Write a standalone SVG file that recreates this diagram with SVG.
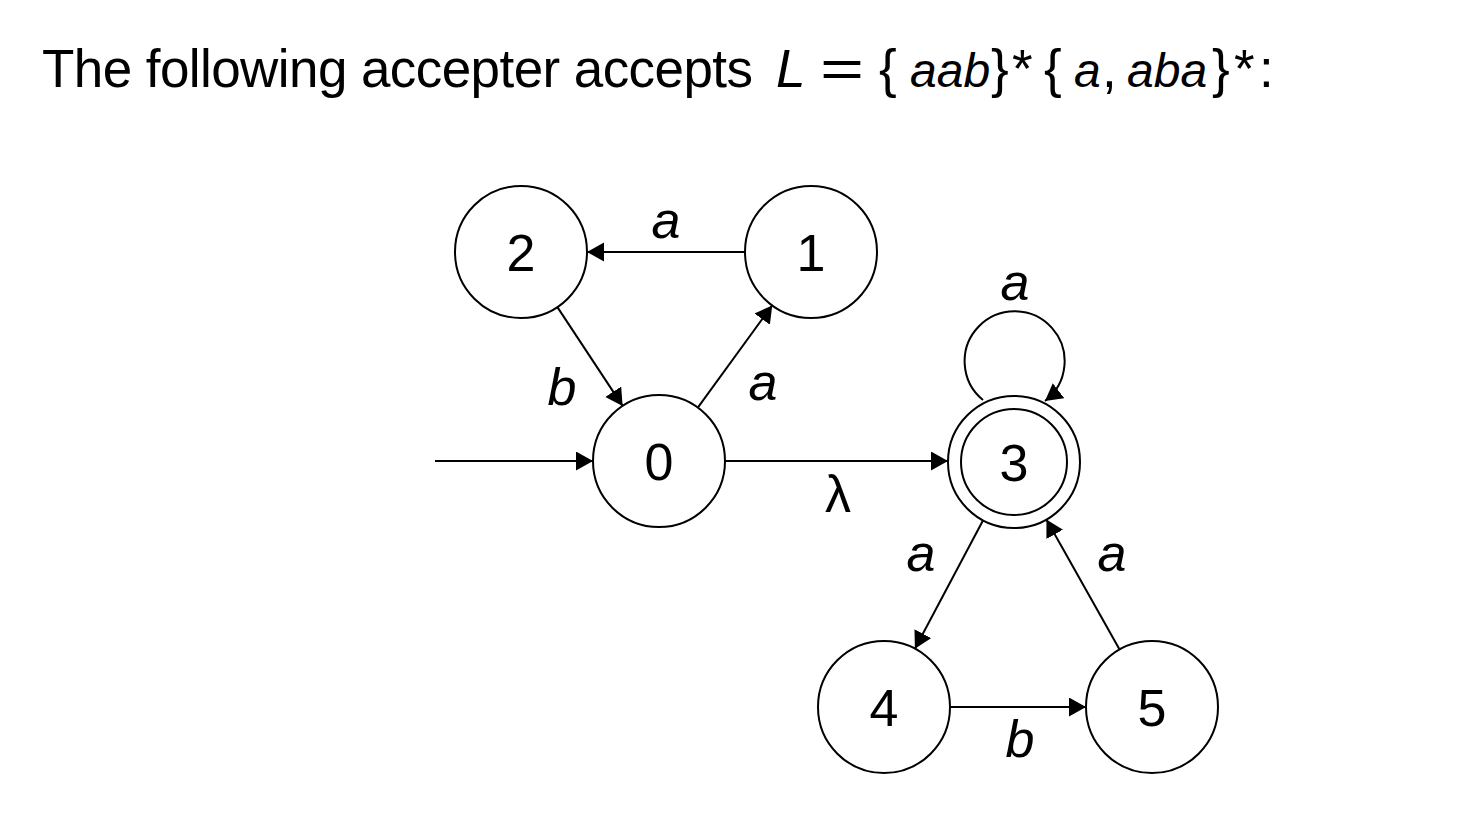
<svg xmlns="http://www.w3.org/2000/svg" width="1458" height="822" viewBox="0 0 1458 822">
<style>
text{font-family:"Liberation Sans",Arial,sans-serif;fill:#000}
.t{font-size:53px}
.w{font-size:48px;font-style:italic}
.i{font-style:italic}
.n{font-size:52px;text-anchor:middle}
.l{font-size:52px;font-style:italic;text-anchor:middle}
.node{fill:#fff;stroke:#000;stroke-width:2}
.e{fill:none;stroke:#000;stroke-width:2;marker-end:url(#ah)}
</style>
<defs>
<marker id="ah" markerUnits="userSpaceOnUse" markerWidth="18" markerHeight="20" refX="17" refY="9.5" orient="auto">
<path d="M0,0 L17,9.5 L0,19 z" fill="#000"/>
</marker>
</defs>
<rect width="1458" height="822" fill="#fff"/>
<g id="title">
<text class="t" x="42" y="87" textLength="711" lengthAdjust="spacing">The following accepter accepts</text>
<text class="t i" x="776" y="87">L</text>
<text class="t" x="820" y="87" textLength="44" lengthAdjust="spacingAndGlyphs">=</text>
<text class="t" x="879" y="87">{</text>
<text class="w" x="910" y="87">aab</text>
<text class="t" x="991" y="87">}</text>
<text class="t" x="1012" y="87">*</text>
<text class="t" x="1044" y="87">{</text>
<text class="w" x="1074" y="87">a</text>
<text class="t" x="1102" y="87">,</text>
<text class="w" x="1127" y="87">aba</text>
<text class="t" x="1212" y="87">}</text>
<text class="t" x="1234" y="87">*</text>
<text class="t" x="1259" y="87">:</text>
</g>
<g id="connectors">
<line class="e" x1="435" y1="461" x2="593" y2="461"/>
<line class="e" x1="745" y1="252" x2="587" y2="252"/>
<line class="e" x1="557.4" y1="307.1" x2="622.6" y2="405.9"/>
<line class="e" x1="697.8" y1="407.6" x2="772.2" y2="305.4"/>
<line class="e" x1="725" y1="461" x2="948" y2="461"/>
<path class="e" d="M983,400 A50,50 0 1 1 1045,401"/>
<line class="e" x1="983.1" y1="520.3" x2="914.9" y2="648.7"/>
<line class="e" x1="950" y1="707" x2="1086" y2="707"/>
<line class="e" x1="1119.6" y1="649.5" x2="1046.4" y2="519.5"/>
<text class="l" x="666" y="238">a</text>
<text class="l" x="562" y="405">b</text>
<text class="l" x="763" y="400">a</text>
<text class="l" x="1015" y="300">a</text>
<text class="n" x="838" y="512">λ</text>
<text class="l" x="921" y="571">a</text>
<text class="l" x="1112" y="571">a</text>
<text class="l" x="1020" y="757">b</text>
</g>
<g id="node-0"><circle class="node" cx="659" cy="461" r="66"/><text class="n" x="659" y="480">0</text></g>
<g id="node-1"><circle class="node" cx="811" cy="252" r="66"/><text class="n" x="811" y="271">1</text></g>
<g id="node-2"><circle class="node" cx="521" cy="252" r="66"/><text class="n" x="521" y="271">2</text></g>
<g id="node-3"><circle class="node" cx="1014" cy="462" r="66"/><circle class="node" cx="1014" cy="462" r="53"/><text class="n" x="1014" y="481">3</text></g>
<g id="node-4"><circle class="node" cx="884" cy="707" r="66"/><text class="n" x="884" y="726">4</text></g>
<g id="node-5"><circle class="node" cx="1152" cy="707" r="66"/><text class="n" x="1152" y="726">5</text></g>
</svg>
